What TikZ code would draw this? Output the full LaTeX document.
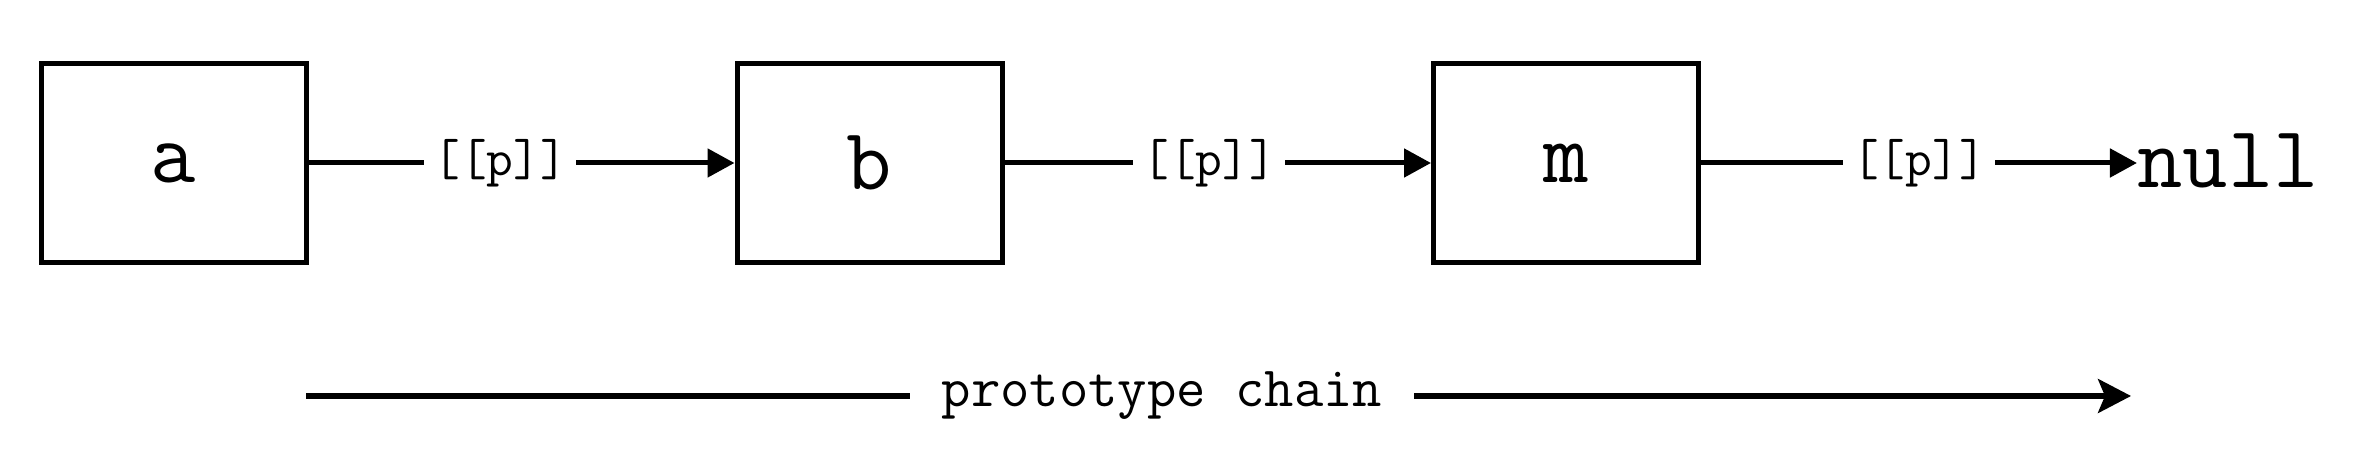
\documentclass[tikz,border=0pt]{standalone}
\usepackage{fontspec}
\usetikzlibrary{arrows.meta, positioning}

\begin{document}
\begin{tikzpicture}[x=0.5pt, y=-0.5pt,
    objbox/.style={rectangle, draw=black, line width=2.5pt, minimum width=132.5pt, minimum height=99.5pt, font=\ttfamily\fontsize{44}{52}\selectfont},
    endlabel/.style={inner sep=0pt, font=\ttfamily\fontsize{44}{52}\selectfont},
    linklabel/.style={fill=white, inner xsep=4.5pt, inner ysep=2pt, font=\ttfamily\fontsize{26}{31}\selectfont},
    chainlabel/.style={fill=white, inner xsep=16pt, inner ysep=2pt, font=\ttfamily\fontsize{28.5}{34}\selectfont},
    link/.style={-{Triangle[length=13.5pt, width=14pt]}, line width=2.5pt},
    chain/.style={-{Stealth[length=16.5pt, width=17pt, inset=3.5pt]}, line width=2.6pt}]
    \useasboundingbox (0,0) rectangle (2378,474);

    % objects
    \node[objbox] (a) at (173.5,163) {a};
    \node[objbox] (b) at (869.5,163) {b};
    \node[objbox] (m) at (1566,163) {m};
    \node[endlabel, anchor=base] (null) at (2228,188) {null};

    % [[p]] links
    \draw[link] (a) -- node[linklabel, pos=0.45] {[[p]]} (b);
    \draw[link] (b) -- node[linklabel, pos=0.48] {[[p]]} (m);
    \draw[link] (m.east) -- node[linklabel, pos=0.5] {[[p]]} (null.west |- m.east);

    % prototype chain
    \coordinate (chainstart) at (306,396);
    \coordinate (chainend) at (2131,396);
    \draw[chain] (chainstart) -- node[chainlabel, pos=0.469] {prototype chain} (chainend);
\end{tikzpicture}
\end{document}
